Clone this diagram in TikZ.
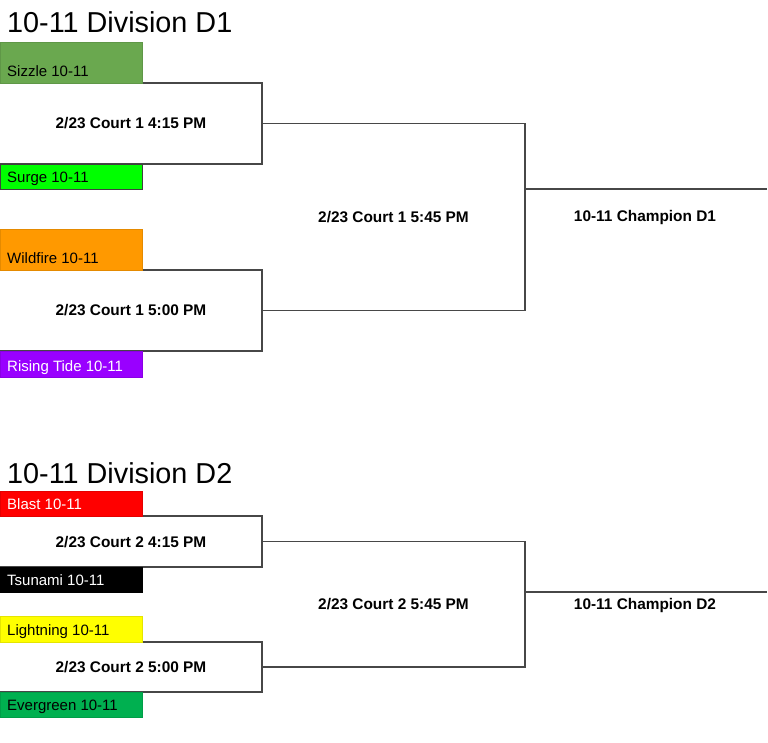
\documentclass[tikz,border=0pt]{standalone}
\usepackage{fontspec}
\setmainfont{Liberation Sans}
\definecolor{linec}{HTML}{474747}
\definecolor{csizzle}{HTML}{6AA84F}
\definecolor{csurge}{HTML}{00FF00}
\definecolor{cwild}{HTML}{FF9900}
\definecolor{ctide}{HTML}{9900FF}
\definecolor{cblast}{HTML}{FF0000}
\definecolor{ctsu}{HTML}{000000}
\definecolor{clight}{HTML}{FFFF00}
\definecolor{cever}{HTML}{00B050}
\tikzset{
  bracket/.style={draw=linec, line width=1.5pt, line join=miter},
  teambox/.style={rectangle, inner sep=0pt, outer sep=0pt, minimum width=142pt, anchor=south west, line width=0.6pt},
  teamtext/.style={inner sep=0pt, anchor=base west, font=\fontsize{15}{18}\selectfont},
  matchtext/.style={inner sep=0pt, font=\fontsize{15.4}{18}\selectfont\bfseries},
  titletext/.style={inner sep=0pt, anchor=base west, font=\fontsize{28.8}{32}\selectfont}
}
\begin{document}
\begin{tikzpicture}[x=1pt,y=-1pt]
\useasboundingbox[fill=white] (0,0) rectangle (768,743);

% ---------- Division D1 ----------
\node[titletext] (t1) at (7,33) {10-11 Division D1};

\coordinate (a1tl) at (0,83);   \coordinate (a1tr) at (262,83);
\coordinate (a1br) at (262,164); \coordinate (a1bl) at (0,164);
\coordinate (a2tl) at (0,270);  \coordinate (a2tr) at (262,270);
\coordinate (a2br) at (262,351); \coordinate (a2bl) at (0,351);
\coordinate (a3tl) at (262,123.5); \coordinate (a3tr) at (525,123.5);
\coordinate (a3br) at (525,310.5); \coordinate (a3bl) at (262,310.5);
\coordinate (c1a) at (525,189); \coordinate (c1b) at (767,189);

\draw[bracket] (a1tl) -- (a1tr) -- (a1br) -- (a1bl);
\draw[bracket] (a2tl) -- (a2tr) -- (a2br) -- (a2bl);
\draw[bracket] (a3tl) -- (a3tr) -- (a3br) -- (a3bl);
\draw[bracket] (c1a) -- (c1b);

\node[teambox, fill=csizzle, draw=csizzle!90!black, minimum height=41pt] (sizzle) at (0,83) {};
\node[teamtext] (sizzlet) at ([xshift=7pt,yshift=6pt]sizzle.south west) {Sizzle 10-11};
\node[teambox, fill=csurge, draw=black!75, minimum height=25pt] (surge) at (0,189) {};
\node[teamtext] (surget) at ([xshift=7pt,yshift=6pt]surge.south west) {Surge 10-11};
\node[teambox, fill=cwild, draw=cwild!90!black, minimum height=41pt] (wild) at (0,270) {};
\node[teamtext] (wildt) at ([xshift=7pt,yshift=6pt]wild.south west) {Wildfire 10-11};
\node[teambox, fill=ctide, draw=ctide!90!black, minimum height=26pt] (tide) at (0,377) {};
\node[teamtext, text=white] (tidet) at ([xshift=7pt,yshift=6pt]tide.south west) {Rising Tide 10-11};

\node[matchtext] (m11) at (131,123.5) {2/23 Court 1 4:15 PM};
\node[matchtext] (m12) at (131,310.5) {2/23 Court 1 5:00 PM};
\node[matchtext] (m13) at (393.5,217) {2/23 Court 1 5:45 PM};
\node[matchtext] (ch1) at (645,218) {10-11 Champion D1};

% ---------- Division D2 ----------
\node[titletext] (t2) at (7,483) {10-11 Division D2};

\coordinate (b1tl) at (0,516);   \coordinate (b1tr) at (262,516);
\coordinate (b1br) at (262,567); \coordinate (b1bl) at (0,567);
\coordinate (b2tl) at (0,642);   \coordinate (b2tr) at (262,642);
\coordinate (b2br) at (262,692); \coordinate (b2bl) at (0,692);
\coordinate (b3tl) at (262,541.5); \coordinate (b3tr) at (525,541.5);
\coordinate (b3br) at (525,667); \coordinate (b3bl) at (262,667);
\coordinate (c2a) at (525,592); \coordinate (c2b) at (767,592);

\draw[bracket] (b1tl) -- (b1tr) -- (b1br) -- (b1bl);
\draw[bracket] (b2tl) -- (b2tr) -- (b2br) -- (b2bl);
\draw[bracket] (b3tl) -- (b3tr) -- (b3br) -- (b3bl);
\draw[bracket] (c2a) -- (c2b);

\node[teambox, fill=cblast, draw=cblast!90!black, minimum height=25pt] (blast) at (0,516) {};
\node[teamtext, text=white] (blastt) at ([xshift=7pt,yshift=6.5pt]blast.south west) {Blast 10-11};
\node[teambox, fill=ctsu, draw=black, minimum height=25pt] (tsu) at (0,592) {};
\node[teamtext, text=white] (tsut) at ([xshift=7pt,yshift=6.5pt]tsu.south west) {Tsunami 10-11};
\node[teambox, fill=clight, draw=clight!90!black, minimum height=26pt] (light) at (0,642) {};
\node[teamtext] (lightt) at ([xshift=7pt,yshift=6.5pt]light.south west) {Lightning 10-11};
\node[teambox, fill=cever, draw=cever!90!black, minimum height=25pt] (ever) at (0,717) {};
\node[teamtext] (evert) at ([xshift=7pt,yshift=6.5pt]ever.south west) {Evergreen 10-11};

\node[matchtext] (m21) at (131,542) {2/23 Court 2 4:15 PM};
\node[matchtext] (m22) at (131,667) {2/23 Court 2 5:00 PM};
\node[matchtext] (m23) at (393.5,604.5) {2/23 Court 2 5:45 PM};
\node[matchtext] (ch2) at (645,605.5) {10-11 Champion D2};
\end{tikzpicture}
\end{document}
